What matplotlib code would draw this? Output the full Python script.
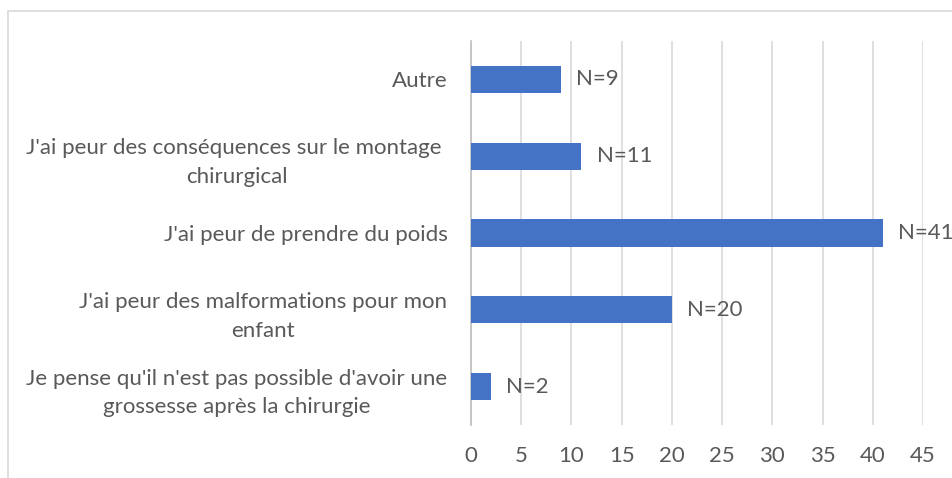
import matplotlib
import matplotlib.pyplot as plt
from matplotlib.patches import Rectangle

matplotlib.rcParams['font.family'] = ['Lato', 'DejaVu Sans']

categories = ["Je pense qu'il n'est pas possible d'avoir une\ngrossesse après la chirurgie",
              "J'ai peur des malformations pour mon\nenfant",
              "J'ai peur de prendre du poids",
              "J'ai peur des conséquences sur le montage \nchirurgical",
              "Autre"]
values = [2, 20, 41, 11, 9]
bar_labels = ["N=2", "N=20", "N=41", "N=11", "N=9"]
xticks = [0, 5, 10, 15, 20, 25, 30, 35, 40, 45]

text_col = '#595959'
grid_col = '#D9D9D9'
fs = 16

fig = plt.figure(figsize=(9.52, 4.78), dpi=100)
fig.patches.append(Rectangle((8/952, -0.1), 1.1, 1 - 11/478 + 0.1,
                             transform=fig.transFigure, fill=False,
                             edgecolor=grid_col, linewidth=1.2))

ax = fig.add_axes([471/952, 1 - 425/478, (923 - 471)/952, (425 - 41)/478])
pos = range(len(categories))
ax.barh(pos, values, height=0.355, color='#4472C4', zorder=3)
for p, v, lab in zip(pos, values, bar_labels):
    ax.text(v + 1.5, p, lab, va='center', ha='left', fontsize=fs,
            color=text_col, clip_on=False)

ax.set_xlim(0, 45)
ax.set_ylim(-0.5, len(categories) - 0.5)
ax.set_xticks(xticks)
ax.set_yticks(list(pos))
ax.set_yticklabels(categories, fontsize=fs, color=text_col, linespacing=1.55)
for t in ax.get_yticklabels():
    t.set_multialignment('center')
ax.tick_params(axis='x', labelsize=fs, colors=text_col, length=0, pad=15)
ax.tick_params(axis='y', length=0, pad=17)
ax.grid(axis='x', color=grid_col, linewidth=1.2, zorder=0)
for s in ['top', 'right', 'bottom']:
    ax.spines[s].set_visible(False)
ax.spines['left'].set_color('#BFBFBF')
ax.spines['left'].set_linewidth(1.2)

plt.savefig('out.png', dpi=100)
